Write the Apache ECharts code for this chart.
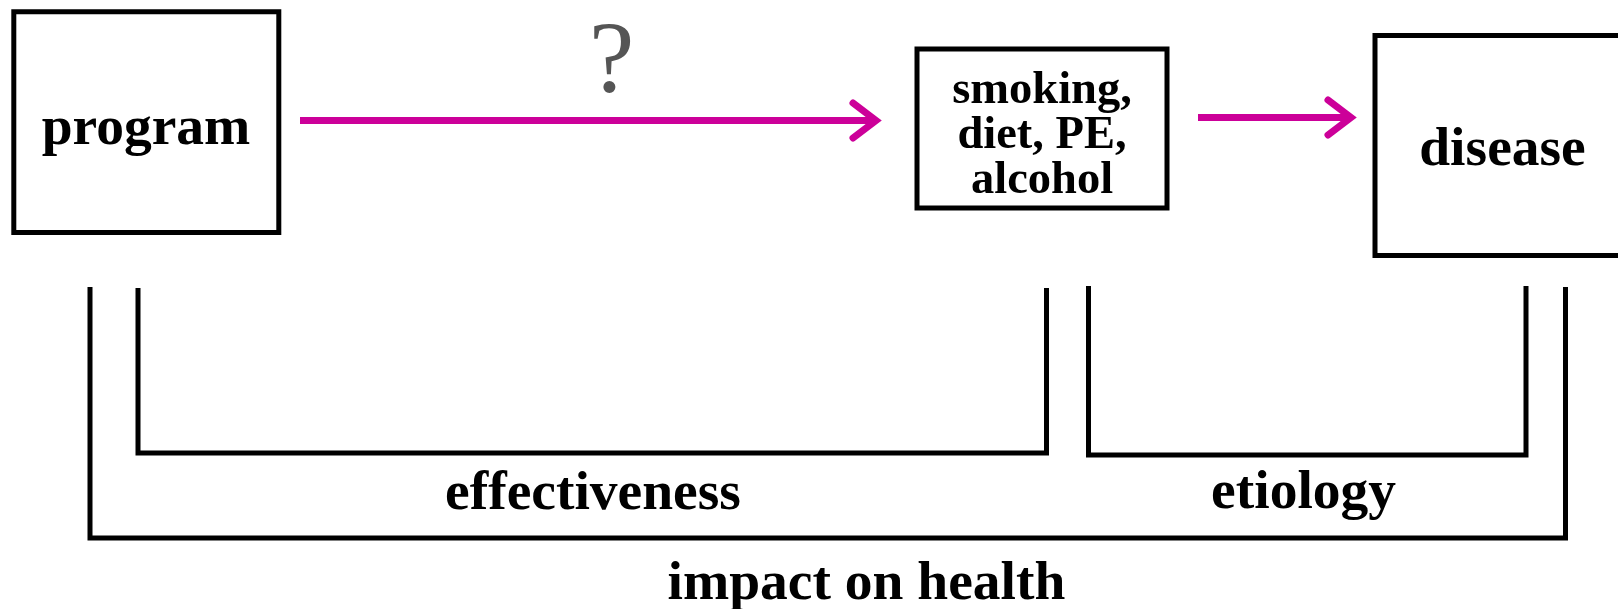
<!DOCTYPE html>
<html>
<head>
<meta charset="utf-8">
<script src="https://cdn.jsdelivr.net/npm/echarts@6/dist/echarts.min.js"></script>
<style>
  html, body { margin: 0; padding: 0; background: #fff; }
  #chart { width: 1618px; height: 609px; }
</style>
</head>
<body>
<div id="chart"></div>
<script>
// diagram values, in picture units (x right, y down)
const boxes = [[13.8, 11.7, 278.8, 232.5], [917, 49, 1167, 208], [1375, 35.5, 1640, 255.5]]
const boxLabels = ['program', 'smoking,\ndiet, PE,\nalcohol', 'disease']
const boxLabelPos = [[146, 142.7], [1042, 146.7], [1502.5, 164]]
// [x start, x head, y]
const arrows = [[300, 876, 120.5], [1198, 1351, 117.5]]
const questionMark = ['?', 611.7, 90]
// [x left, x right, y top, y bottom]
const brackets = [[138, 1046.5, 288, 453], [1088.5, 1526, 286, 455], [90, 1565.5, 287, 538]]
const bracketLabels = ['effectiveness', 'etiology', 'impact on health']
const bracketLabelPos = [[593, 508], [1303.6, 507], [866.4, 598]]

const serif = '"Liberation Serif", "Times New Roman", serif'
const magenta = '#cc0099'

const myChart = echarts.init(document.getElementById('chart'))

// baseline -> middle of em box
function midY(api, x, base, fs) {
  const p = api.coord([x, base])
  return [p[0], p[1] - 0.24 * fs]
}

const option = {
  animation: false,
  backgroundColor: '#fff',
  grid: { left: 0, right: 0, top: 0, bottom: 0 },
  xAxis: { type: 'value', min: 0, max: 1618, show: false },
  yAxis: { type: 'value', min: 0, max: 609, inverse: true, show: false },
  series: [
    {
      // boxes
      type: 'custom',
      data: boxes,
      renderItem: function(params, api) {
        const p0 = api.coord([api.value(0), api.value(1)])
        const p1 = api.coord([api.value(2), api.value(3)])
        const fs = params.dataIndex === 1 ? 46.5 : 55.5
        const lp = boxLabelPos[params.dataIndex]
        const t = midY(api, lp[0], lp[1], fs)
        return {
          type: 'group',
          children: [
            {
              type: 'rect',
              shape: { x: p0[0], y: p0[1], width: p1[0] - p0[0], height: p1[1] - p0[1] },
              style: { fill: 'none', stroke: '#000', lineWidth: 5 }
            },
            {
              type: 'text',
              x: t[0],
              y: t[1],
              style: {
                text: boxLabels[params.dataIndex],
                fill: '#000',
                fontFamily: serif,
                fontWeight: 'bold',
                fontSize: fs,
                lineHeight: 45,
                align: 'center',
                verticalAlign: 'middle'
              }
            }
          ]
        }
      }
    },
    {
      // arrows
      type: 'custom',
      data: arrows,
      renderItem: function(params, api) {
        const a = api.coord([api.value(0), api.value(2)])
        const b = api.coord([api.value(1), api.value(2)])
        return {
          type: 'group',
          children: [
            {
              type: 'polyline',
              shape: { points: [a, b] },
              style: { stroke: magenta, lineWidth: 7, lineCap: 'butt' }
            },
            {
              type: 'polyline',
              shape: { points: [[b[0] - 23, b[1] - 17.5], b, [b[0] - 23, b[1] + 17.5]] },
              style: { stroke: magenta, fill: 'none', lineWidth: 7, lineCap: 'round', lineJoin: 'miter' }
            }
          ]
        }
      }
    },
    {
      // brackets
      type: 'custom',
      data: brackets,
      renderItem: function(params, api) {
        const x0 = api.value(0), x1 = api.value(1), y0 = api.value(2), y1 = api.value(3)
        const lp = bracketLabelPos[params.dataIndex]
        const t = midY(api, lp[0], lp[1], 55.5)
        return {
          type: 'group',
          children: [
            {
              type: 'polyline',
              shape: { points: [api.coord([x0, y0]), api.coord([x0, y1]), api.coord([x1, y1]), api.coord([x1, y0])] },
              style: { stroke: '#000', fill: 'none', lineWidth: 5, lineJoin: 'miter', lineCap: 'butt' }
            },
            {
              type: 'text',
              x: t[0],
              y: t[1],
              style: {
                text: bracketLabels[params.dataIndex],
                fill: '#000',
                fontFamily: serif,
                fontWeight: 'bold',
                fontSize: 55.5,
                align: 'center',
                verticalAlign: 'middle'
              }
            }
          ]
        }
      }
    },
    {
      // question mark over the first arrow
      type: 'custom',
      data: [[questionMark[1], questionMark[2]]],
      renderItem: function(params, api) {
        const t = midY(api, api.value(0), api.value(1), 102)
        return {
          type: 'text',
          x: t[0],
          y: t[1],
          style: {
            text: questionMark[0],
            fill: '#555555',
            fontFamily: serif,
            fontSize: 102,
            align: 'center',
            verticalAlign: 'middle'
          }
        }
      }
    }
  ]
}

myChart.setOption(option, true)
window.addEventListener('resize', () => {
  myChart.resize()
})
</script>
</body>
</html>
